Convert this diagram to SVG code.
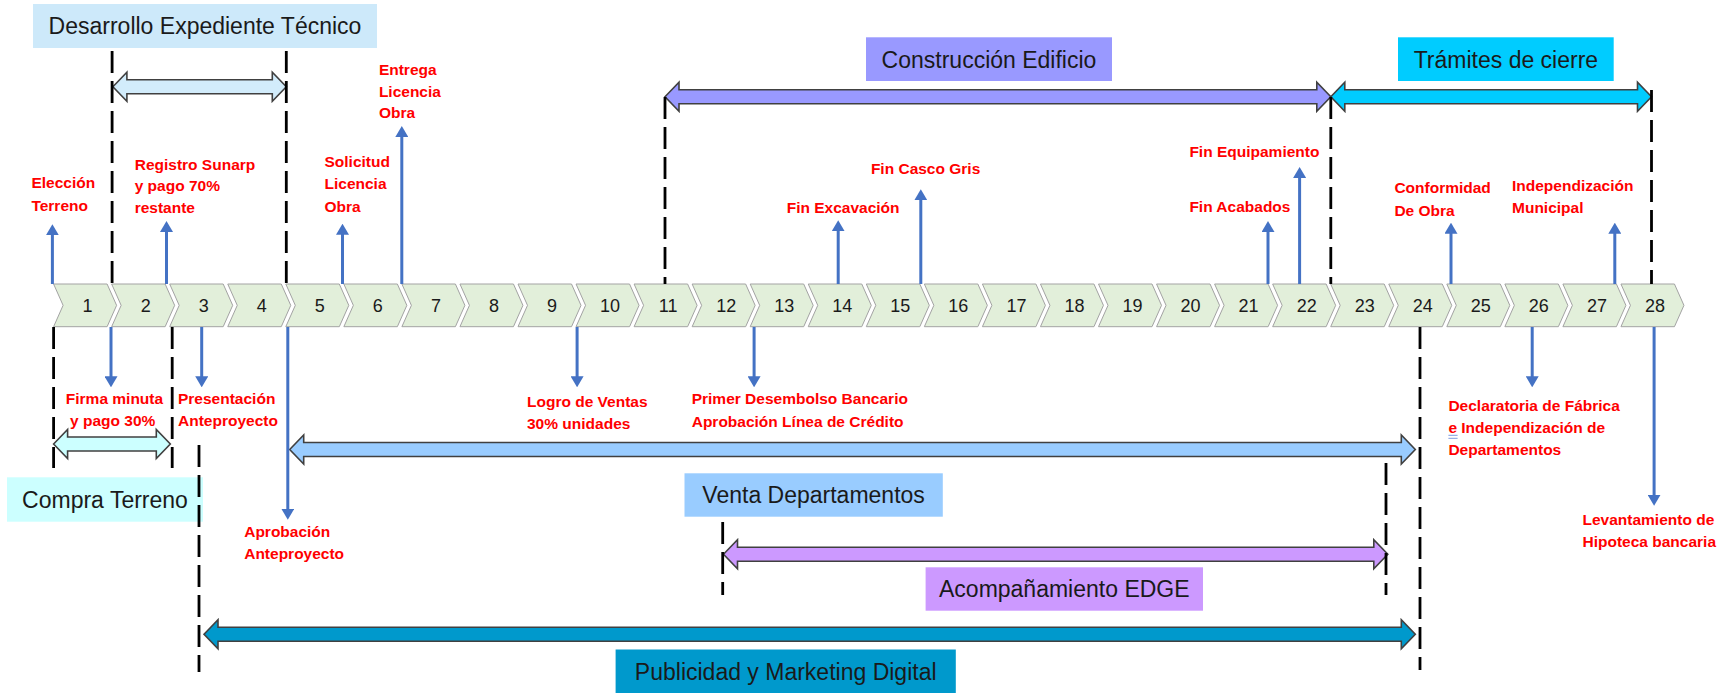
<svg xmlns="http://www.w3.org/2000/svg" xmlns:xlink="http://www.w3.org/1999/xlink" width="1736" height="693" viewBox="0 0 1736 693">
<style>
.chev{fill:#e2efda;stroke:#a3a3a3;stroke-width:1}
.num{font-family:"Liberation Sans",Arial,sans-serif;font-size:18px;fill:#1a1a1a;text-anchor:middle}
.box-label{font-family:"Liberation Sans",Arial,sans-serif;font-size:23px;fill:#1a1a1a;text-anchor:middle}
.ms{font-family:"Liberation Sans",Arial,sans-serif;font-size:15.5px;font-weight:bold;fill:#ff0000}
.blk{stroke:#404040;stroke-width:1.6;stroke-linejoin:miter}
.dash{stroke:#000;stroke-width:2.8;stroke-dasharray:22 8;fill:none}
.ms-arrow{stroke:#4472c4;stroke-width:3;fill:none;marker-end:url(#head)}
</style>
<defs>
<path id="chev" d="M0,0 H53.5 L63,21.35 L53.5,42.7 H0 L9.5,21.35 Z"/>
<marker id="head" markerUnits="userSpaceOnUse" markerWidth="11" markerHeight="13" viewBox="0 0 11 13" refX="1" refY="6.5" orient="auto">
<path d="M0,0 L11,6.5 L0,13 Z" fill="#4472c4"/>
</marker>
</defs>
<rect width="1736" height="693" fill="#ffffff"/>

<g id="timeline">
<g id="step-1"><use href="#chev" class="chev" x="53.6" y="284"/><text class="num" x="87.6" y="311.5">1</text></g>
<g id="step-2"><use href="#chev" class="chev" x="111.65" y="284"/><text class="num" x="145.65" y="311.5">2</text></g>
<g id="step-3"><use href="#chev" class="chev" x="169.7" y="284"/><text class="num" x="203.7" y="311.5">3</text></g>
<g id="step-4"><use href="#chev" class="chev" x="227.75" y="284"/><text class="num" x="261.75" y="311.5">4</text></g>
<g id="step-5"><use href="#chev" class="chev" x="285.8" y="284"/><text class="num" x="319.8" y="311.5">5</text></g>
<g id="step-6"><use href="#chev" class="chev" x="343.85" y="284"/><text class="num" x="377.85" y="311.5">6</text></g>
<g id="step-7"><use href="#chev" class="chev" x="401.9" y="284"/><text class="num" x="435.9" y="311.5">7</text></g>
<g id="step-8"><use href="#chev" class="chev" x="459.95" y="284"/><text class="num" x="493.95" y="311.5">8</text></g>
<g id="step-9"><use href="#chev" class="chev" x="518" y="284"/><text class="num" x="552" y="311.5">9</text></g>
<g id="step-10"><use href="#chev" class="chev" x="576.05" y="284"/><text class="num" x="610.05" y="311.5">10</text></g>
<g id="step-11"><use href="#chev" class="chev" x="634.1" y="284"/><text class="num" x="668.1" y="311.5">11</text></g>
<g id="step-12"><use href="#chev" class="chev" x="692.15" y="284"/><text class="num" x="726.15" y="311.5">12</text></g>
<g id="step-13"><use href="#chev" class="chev" x="750.2" y="284"/><text class="num" x="784.2" y="311.5">13</text></g>
<g id="step-14"><use href="#chev" class="chev" x="808.25" y="284"/><text class="num" x="842.25" y="311.5">14</text></g>
<g id="step-15"><use href="#chev" class="chev" x="866.3" y="284"/><text class="num" x="900.3" y="311.5">15</text></g>
<g id="step-16"><use href="#chev" class="chev" x="924.35" y="284"/><text class="num" x="958.35" y="311.5">16</text></g>
<g id="step-17"><use href="#chev" class="chev" x="982.4" y="284"/><text class="num" x="1016.4" y="311.5">17</text></g>
<g id="step-18"><use href="#chev" class="chev" x="1040.45" y="284"/><text class="num" x="1074.45" y="311.5">18</text></g>
<g id="step-19"><use href="#chev" class="chev" x="1098.5" y="284"/><text class="num" x="1132.5" y="311.5">19</text></g>
<g id="step-20"><use href="#chev" class="chev" x="1156.55" y="284"/><text class="num" x="1190.55" y="311.5">20</text></g>
<g id="step-21"><use href="#chev" class="chev" x="1214.6" y="284"/><text class="num" x="1248.6" y="311.5">21</text></g>
<g id="step-22"><use href="#chev" class="chev" x="1272.65" y="284"/><text class="num" x="1306.65" y="311.5">22</text></g>
<g id="step-23"><use href="#chev" class="chev" x="1330.7" y="284"/><text class="num" x="1364.7" y="311.5">23</text></g>
<g id="step-24"><use href="#chev" class="chev" x="1388.75" y="284"/><text class="num" x="1422.75" y="311.5">24</text></g>
<g id="step-25"><use href="#chev" class="chev" x="1446.8" y="284"/><text class="num" x="1480.8" y="311.5">25</text></g>
<g id="step-26"><use href="#chev" class="chev" x="1504.85" y="284"/><text class="num" x="1538.85" y="311.5">26</text></g>
<g id="step-27"><use href="#chev" class="chev" x="1562.9" y="284"/><text class="num" x="1596.9" y="311.5">27</text></g>
<g id="step-28"><use href="#chev" class="chev" x="1620.95" y="284"/><text class="num" x="1654.95" y="311.5">28</text></g>
</g>

<g id="phases">
<g id="phase-desarrollo">
<rect x="33" y="4" width="344" height="44" fill="#cde9fa"/>
<text class="box-label" x="205" y="34.3">Desarrollo Expediente Técnico</text>
<path class="blk" fill="#d2ecfb" d="M112.9,86.7 L126.9,72.2 L126.9,79.7 L272.3,79.7 L272.3,72.2 L286.3,86.7 L272.3,101.2 L272.3,93.7 L126.9,93.7 L126.9,101.2 Z"/>
</g>
<g id="phase-construccion">
<rect x="866" y="37.3" width="246" height="43.7" fill="#9999ff"/>
<text class="box-label" x="989" y="67.5">Construcción Edificio</text>
<path class="blk" fill="#9999ff" d="M665,96.7 L679,82.2 L679,89.7 L1316.8,89.7 L1316.8,82.2 L1330.8,96.7 L1316.8,111.2 L1316.8,103.7 L679,103.7 L679,111.2 Z"/>
</g>
<g id="phase-tramites">
<rect x="1398" y="37.3" width="215.7" height="43.7" fill="#00ccff"/>
<text class="box-label" x="1505.9" y="67.5">Trámites de cierre</text>
<path class="blk" fill="#00ccff" d="M1330.8,96.7 L1344.8,82.2 L1344.8,89.7 L1637.5,89.7 L1637.5,82.2 L1651.5,96.7 L1637.5,111.2 L1637.5,103.7 L1344.8,103.7 L1344.8,111.2 Z"/>
</g>
<g id="phase-compra">
<rect x="7" y="477.3" width="196" height="44.4" fill="#ccffff"/>
<text class="box-label" x="105" y="507.5">Compra Terreno</text>
<path class="blk" fill="#ccffff" d="M53.6,444 L67.6,429.5 L67.6,437 L156.3,437 L156.3,429.5 L170.3,444 L156.3,458.5 L156.3,451 L67.6,451 L67.6,458.5 Z"/>
</g>
<g id="phase-venta">
<rect x="684.5" y="473.3" width="258.3" height="43.4" fill="#99ccff"/>
<text class="box-label" x="813.6" y="503.3">Venta Departamentos</text>
<path class="blk" fill="#99ccff" d="M289.7,449.5 L303.7,435 L303.7,442.5 L1401.3,442.5 L1401.3,435 L1415.3,449.5 L1401.3,464 L1401.3,456.5 L303.7,456.5 L303.7,464 Z"/>
</g>
<g id="phase-edge">
<path class="blk" fill="#cc99ff" d="M723.5,554.3 L737.5,539.8 L737.5,547.3 L1373.8,547.3 L1373.8,539.8 L1387.8,554.3 L1373.8,568.8 L1373.8,561.3 L737.5,561.3 L737.5,568.8 Z"/>
<rect x="925.6" y="567.3" width="277.4" height="43.4" fill="#cc99ff"/>
<text class="box-label" x="1064.3" y="597">Acompañamiento EDGE</text>
</g>
<g id="phase-publicidad">
<path class="blk" fill="#0099cc" d="M204,634.3 L218,619.8 L218,627.3 L1401.3,627.3 L1401.3,619.8 L1415.3,634.3 L1401.3,648.8 L1401.3,641.3 L218,641.3 L218,648.8 Z"/>
<rect x="615.6" y="649.5" width="340.2" height="44" fill="#0099cc"/>
<text class="box-label" x="785.7" y="679.5">Publicidad y Marketing Digital</text>
</g>
</g>

<g id="connectors">
<line class="dash" x1="112.1" y1="51" x2="112.1" y2="284"/>
<line class="dash" x1="286.3" y1="51" x2="286.3" y2="284"/>
<line class="dash" x1="665" y1="97" x2="665" y2="284"/>
<line class="dash" x1="1330.8" y1="97" x2="1330.8" y2="284"/>
<line class="dash" x1="1651.5" y1="90" x2="1651.5" y2="284"/>
<line class="dash" x1="53.6" y1="327" x2="53.6" y2="468"/>
<line class="dash" x1="172.2" y1="327" x2="172.2" y2="468"/>
<line class="dash" x1="199" y1="445" x2="199" y2="672"/>
<line class="dash" x1="1420" y1="327" x2="1420" y2="670"/>
<line class="dash" x1="722.7" y1="522" x2="722.7" y2="595"/>
<line class="dash" x1="1386" y1="463" x2="1386" y2="595"/>

<line class="ms-arrow" x1="52.4" y1="284" x2="52.4" y2="234.3"/>
<line class="ms-arrow" x1="166.5" y1="284" x2="166.5" y2="231"/>
<line class="ms-arrow" x1="342.5" y1="284" x2="342.5" y2="233.7"/>
<line class="ms-arrow" x1="401.8" y1="284" x2="401.8" y2="136"/>
<line class="ms-arrow" x1="838.2" y1="284" x2="838.2" y2="230.3"/>
<line class="ms-arrow" x1="920.8" y1="284" x2="920.8" y2="199.3"/>
<line class="ms-arrow" x1="1268" y1="284" x2="1268" y2="231"/>
<line class="ms-arrow" x1="1299.6" y1="284" x2="1299.6" y2="177"/>
<line class="ms-arrow" x1="1451" y1="284" x2="1451" y2="232.7"/>
<line class="ms-arrow" x1="1614.8" y1="284" x2="1614.8" y2="232.7"/>

<line class="ms-arrow" x1="111" y1="327" x2="111" y2="377.3"/>
<line class="ms-arrow" x1="201.7" y1="327" x2="201.7" y2="377.3"/>
<line class="ms-arrow" x1="287.8" y1="327" x2="287.8" y2="509.7"/>
<line class="ms-arrow" x1="577.1" y1="327" x2="577.1" y2="377.3"/>
<line class="ms-arrow" x1="754.1" y1="327" x2="754.1" y2="377.3"/>
<line class="ms-arrow" x1="1532.2" y1="327" x2="1532.2" y2="377.3"/>
<line class="ms-arrow" x1="1654.1" y1="327" x2="1654.1" y2="495.7"/>
</g>

<g id="milestones">
<g id="ms-eleccion"><text class="ms" x="31.4" y="188.3">Elección</text><text class="ms" x="31.4" y="210.7">Terreno</text></g>
<g id="ms-registro"><text class="ms" x="134.7" y="169.8">Registro Sunarp</text><text class="ms" x="134.7" y="191.3">y pago 70%</text><text class="ms" x="134.7" y="212.8">restante</text></g>
<g id="ms-solicitud"><text class="ms" x="324.5" y="167.3">Solicitud</text><text class="ms" x="324.5" y="189.3">Licencia</text><text class="ms" x="324.5" y="211.5">Obra</text></g>
<g id="ms-entrega"><text class="ms" x="378.9" y="75">Entrega</text><text class="ms" x="378.9" y="96.7">Licencia</text><text class="ms" x="378.9" y="118.3">Obra</text></g>
<g id="ms-excavacion"><text class="ms" x="786.7" y="212.7">Fin Excavación</text></g>
<g id="ms-casco"><text class="ms" x="870.9" y="174">Fin Casco Gris</text></g>
<g id="ms-equipamiento"><text class="ms" x="1189.4" y="156.7">Fin Equipamiento</text></g>
<g id="ms-acabados"><text class="ms" x="1189.4" y="211.7">Fin Acabados</text></g>
<g id="ms-conformidad"><text class="ms" x="1394.4" y="193.3">Conformidad</text><text class="ms" x="1394.4" y="215.8">De Obra</text></g>
<g id="ms-independizacion"><text class="ms" x="1512" y="190.7">Independización</text><text class="ms" x="1512" y="212.7">Municipal</text></g>
<g id="ms-firma"><text class="ms" x="65.8" y="404.3">Firma minuta</text><text class="ms" x="70" y="426">y pago 30%</text></g>
<g id="ms-presentacion"><text class="ms" x="178" y="404.3">Presentación</text><text class="ms" x="178" y="426">Anteproyecto</text></g>
<g id="ms-aprobacion"><text class="ms" x="244.2" y="536.7">Aprobación</text><text class="ms" x="244.2" y="559">Anteproyecto</text></g>
<g id="ms-logro"><text class="ms" x="527" y="407.3">Logro de Ventas</text><text class="ms" x="527" y="429.3">30% unidades</text></g>
<g id="ms-desembolso"><text class="ms" x="691.7" y="404.3">Primer Desembolso Bancario</text><text class="ms" x="691.7" y="426.5">Aprobación Línea de Crédito</text></g>
<g id="ms-declaratoria"><text class="ms" x="1448.4" y="410.7">Declaratoria de Fábrica</text><text class="ms" x="1448.4" y="432.7">e Independización de</text><text class="ms" x="1448.4" y="455">Departamentos</text>
<line x1="1448.4" y1="435.3" x2="1457.6" y2="435.3" stroke="#7f9be0" stroke-width="1"/><line x1="1448.4" y1="438.3" x2="1457.6" y2="438.3" stroke="#7f9be0" stroke-width="1"/></g>
<g id="ms-levantamiento"><text class="ms" x="1582.5" y="525">Levantamiento de</text><text class="ms" x="1582.5" y="547.3">Hipoteca bancaria</text></g>
</g>
</svg>
